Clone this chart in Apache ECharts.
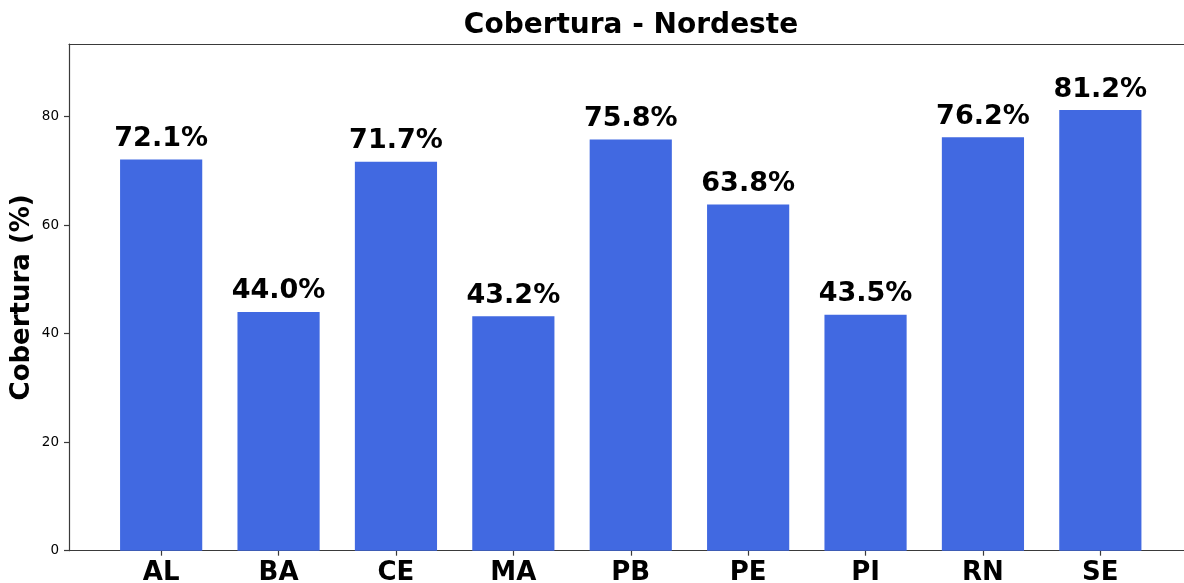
<!DOCTYPE html>
<html>
<head>
<meta charset="utf-8">
<title>Cobertura - Nordeste</title>
<script src="https://cdn.jsdelivr.net/npm/echarts@6/dist/echarts.min.js"></script>
<style>
  html, body { margin: 0; padding: 0; background: #fff; }
  #chart { width: 1184px; height: 583px; }
</style>
</head>
<body>
<div id="chart"></div>
<script>
// data
const estados = ['AL', 'BA', 'CE', 'MA', 'PB', 'PE', 'PI', 'RN', 'SE'];
const cobertura = [72.1, 44.0, 71.7, 43.2, 75.8, 63.8, 43.5, 76.2, 81.2];
const yTicks = [0, 20, 40, 60, 80];

const font = 'DejaVu Sans';
const spine = '#3a3a3a';

const chart = echarts.init(document.getElementById('chart'));

const positions = estados.map((_, i) => i);
const barData = cobertura.map((v, i) => [i, v]);

const option = {
  animation: false,
  textStyle: { fontFamily: font },
  title: {
    text: 'Cobertura - Nordeste',
    left: 626,
    textAlign: 'center',
    top: 7,
    textStyle: { fontFamily: font, fontSize: 28, fontWeight: 'bold', color: '#000' }
  },
  grid: {
    left: 69, top: 44, width: 1123.5, height: 506.7,
    containLabel: false,
    outerBoundsMode: 'none'
  },
  xAxis: [
    {
      type: 'value',
      min: -0.785,
      max: 8.785,
      splitLine: { show: false },
      axisLine: { show: true, onZero: false, lineStyle: { color: spine, width: 1.2 } },
      axisTick: { show: true, length: 5, customValues: positions, lineStyle: { color: spine, width: 1.2 } },
      axisLabel: {
        customValues: positions,
        formatter: v => estados[Math.round(v)] || '',
        margin: 10,
        fontFamily: font,
        fontSize: 26,
        fontWeight: 'bold',
        color: '#000'
      }
    },
    {
      type: 'value',
      position: 'top',
      min: -0.785,
      max: 8.785,
      splitLine: { show: false },
      axisLine: { show: true, onZero: false, lineStyle: { color: spine, width: 1.2 } },
      axisTick: { show: false },
      axisLabel: { show: false }
    }
  ],
  yAxis: {
    type: 'value',
    min: 0,
    max: 93.38,
    splitLine: { show: false },
    axisLine: { show: true, onZero: false, lineStyle: { color: spine, width: 1.2 } },
    axisTick: { show: true, length: 5, customValues: yTicks, lineStyle: { color: spine, width: 1.2 } },
    axisLabel: {
      customValues: yTicks,
      margin: 10,
      fontFamily: font,
      fontSize: 13.5,
      color: '#000'
    },
    name: 'Cobertura (%)',
    nameLocation: 'middle',
    nameRotate: 90,
    nameGap: 34,
    nameMoveOverlap: false,
    nameTextStyle: { fontFamily: font, fontSize: 26, fontWeight: 'bold', color: '#000' }
  },
  series: [
    {
      type: 'bar',
      xAxisIndex: 0,
      data: barData,
      barWidth: '70%',
      itemStyle: { color: '#4169E1' },
      label: {
        show: true,
        position: 'top',
        distance: 7,
        formatter: p => p.value[1].toFixed(1) + '%',
        fontFamily: font,
        fontSize: 27,
        fontWeight: 'bold',
        color: '#000'
      }
    }
  ]
};

chart.setOption(option);
</script>
</body>
</html>
